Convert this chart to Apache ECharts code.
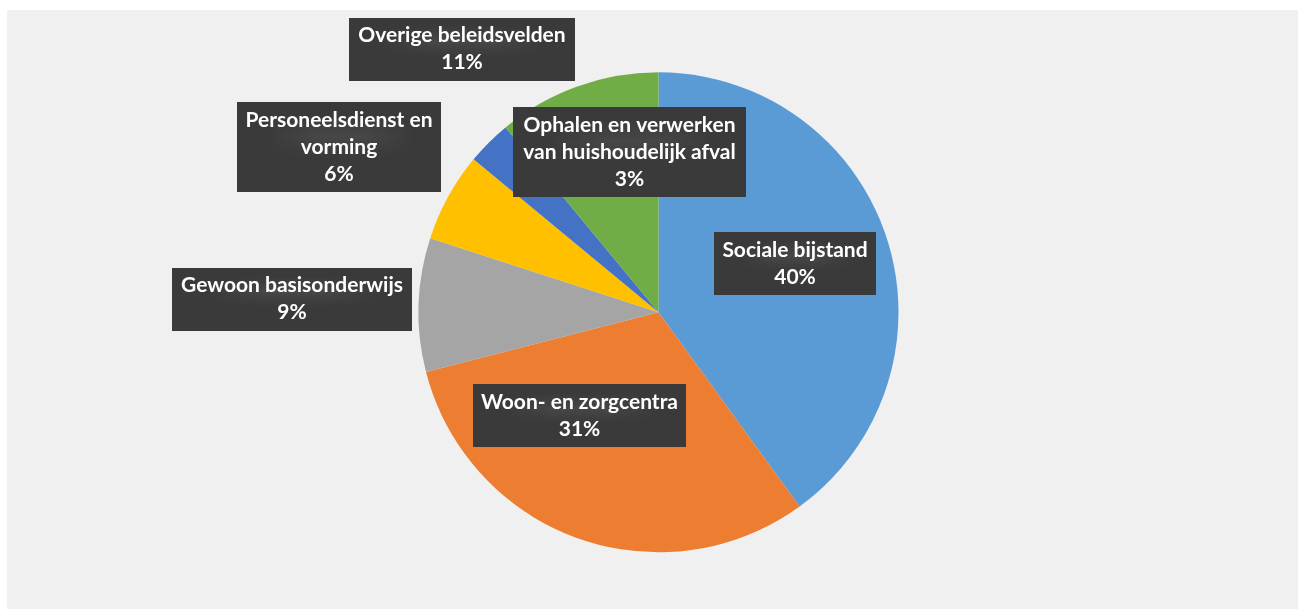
<!DOCTYPE html>
<html>
<head>
<meta charset="utf-8">
<script src="https://cdn.jsdelivr.net/npm/echarts@6/dist/echarts.min.js"></script>
<style>
  html, body { margin: 0; padding: 0; background: #ffffff; }
  #chart { position: absolute; left: 7px; top: 10px; width: 1291px; height: 599px; background: #f0f0f0; }
</style>
</head>
<body>
<div id="chart"></div>
<script>
// Share of expenditure per policy field (clockwise from 12 o'clock)
const categories = [
  'Sociale bijstand',
  'Woon- en zorgcentra',
  'Gewoon basisonderwijs',
  'Personeelsdienst en\nvorming',
  'Ophalen en verwerken\nvan huishoudelijk afval',
  'Overige beleidsvelden'
];
const shares = [40, 31, 9, 6, 3, 11];
const sliceColors = ['#5b9bd5', '#ed7d31', '#a5a5a5', '#ffc000', '#4472c4', '#70ad47'];

// Callout boxes: centre (in chart pixels) and box width
const calloutCentres = [
  [788, 253.5], [572.5, 405.5], [285, 289], [332, 137], [622.5, 142], [455, 39]
];
const calloutWidths = [162, 213, 240, 204, 233, 226];

// Small dotted texture for the dark callout boxes
function dotTexture() {
  const c = document.createElement('canvas');
  c.width = 4; c.height = 4;
  const g = c.getContext('2d');
  g.fillStyle = '#3a3a3a';
  g.fillRect(0, 0, 4, 4);
  g.fillStyle = '#474747';
  g.fillRect(1, 1, 2, 1);
  return c;
}
const boxFill = { image: dotTexture(), repeat: 'repeat' };

const chart = echarts.init(document.getElementById('chart'), null, { renderer: 'canvas' });

const data = categories.map((name, i) => ({
  name: name,
  value: shares[i],
  itemStyle: { color: sliceColors[i] },
  label: { width: calloutWidths[i] }
}));

chart.setOption({
  backgroundColor: '#f0f0f0',
  animation: false,
  series: [{
    type: 'pie',
    center: [651.5, 302.3],
    radius: [0, 240],
    startAngle: 90,
    clockwise: true,
    percentPrecision: 0,
    data: data,
    itemStyle: { borderWidth: 0 },
    labelLine: { show: false },
    label: {
      show: true,
      position: 'inside',
      formatter: '{b}\n{d}%',
      fontFamily: 'Lato',
      fontWeight: 'bold',
      fontSize: 21,
      lineHeight: 27,
      color: '#ffffff',
      textBorderWidth: 0,
      textBorderColor: 'transparent',
      align: 'center',
      padding: [5, 0, 4, 0],
      backgroundColor: boxFill,
      textShadowBlur: 0,
      textShadowColor: 'transparent',
      shadowColor: 'rgba(0,0,0,0.4)',
      shadowBlur: 3,
      shadowOffsetX: 2,
      shadowOffsetY: 2
    },
    labelLayout: function (params) {
      const p = calloutCentres[params.dataIndex];
      return { x: p[0], y: p[1], align: 'center', verticalAlign: 'middle' };
    },
    emphasis: { disabled: true }
  }]
});
</script>
</body>
</html>
